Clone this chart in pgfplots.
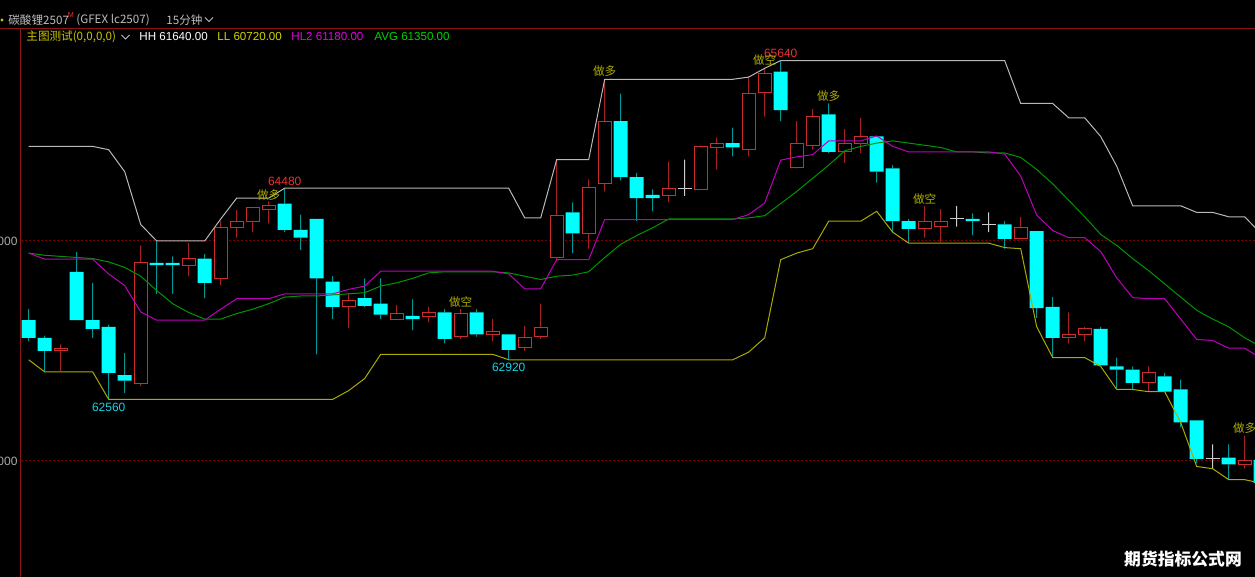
\documentclass[border=0pt]{standalone}
\usepackage{pgfplots}
\usepackage{pgfplotstable}
\usepackage{fontspec}
\pgfplotsset{compat=1.18}
\setmainfont{Liberation Sans}
\newfontfamily\cjk{Noto Sans CJK SC}

\definecolor{framered}{RGB}{140,20,20}
\definecolor{gridred}{RGB}{120,0,0}
\definecolor{upred}{RGB}{205,45,45}
\definecolor{upwick}{RGB}{165,35,35}
\definecolor{dncyan}{RGB}{0,255,255}
\definecolor{dnwick}{RGB}{0,150,150}
\definecolor{dojigray}{RGB}{205,205,205}
\definecolor{hhgray}{RGB}{185,185,185}
\definecolor{llyellow}{RGB}{170,170,0}
\definecolor{hlmag}{RGB}{190,0,190}
\definecolor{avggreen}{RGB}{0,150,0}
\definecolor{sigyellow}{RGB}{175,175,0}
\definecolor{hdrgray}{RGB}{190,190,190}
\definecolor{hdryellow}{RGB}{205,195,0}
\definecolor{txtyellow}{RGB}{210,210,0}
\definecolor{txtmag}{RGB}{230,0,230}
\definecolor{txtgreen}{RGB}{0,210,0}
\definecolor{lblred}{RGB}{235,50,50}
\definecolor{lblcyan}{RGB}{20,210,230}
\definecolor{tickgray}{RGB}{170,170,170}

\newcommand{\hdrfont}{\fontsize{5.8}{7}\selectfont}

% falling bars (open > close)
\pgfplotstableread{
x o h l c
0 63280 63380 63090 63120
1 63120 63140 62820 63000
3 63720 63900 63280 63280
4 63280 63620 63120 63200
5 63220 63240 62560 62800
6 62780 62980 62620 62730
8 63800 64000 63520 63780
9 63800 63860 63520 63780
11 63840 63880 63480 63620
16 64340 64480 64080 64100
17 64100 64240 63920 64030
18 64200 64200 62970 63660
19 63630 63680 63290 63400
21 63480 63660 63400 63410
22 63430 63660 63290 63330
24 63320 63470 63190 63290
26 63350 63380 63070 63110
28 63350 63380 63130 63150
30 63150 63150 62920 63010
34 64260 64350 63890 64070
37 65090 65340 64550 64580
38 64580 64620 64180 64390
39 64420 64470 64270 64390
44 64890 65030 64770 64850
47 65540 65640 65090 65190
50 65150 65250 64800 64810
53 64950 64950 64530 64630
54 64660 64690 64080 64180
55 64180 64200 63980 64110
59 64200 64250 64050 64180
61 64150 64180 63930 64020
63 64090 64090 63300 63390
64 63400 63490 62940 63120
67 63200 63220 62870 62870
68 62860 62940 62660 62830
69 62830 62860 62650 62710
71 62770 62800 62630 62630
72 62650 62740 62310 62350
73 62370 62370 61980 62020
75 62030 62150 61830 61970
77 62010 62030 61780 61800
}\dndata

% rising bars (close > open)
\pgfplotstableread{
x o h l c
2 63000 63060 62820 63020
7 62700 63960 62680 63800
10 63780 63980 63680 63840
12 63660 64180 63600 64120
13 64120 64280 64030 64180
14 64180 64300 64080 64300
15 64290 64360 64160 64320
20 63400 63520 63210 63460
23 63290 63420 63290 63340
25 63310 63400 63260 63350
27 63130 63380 63110 63340
29 63150 63290 63090 63180
31 63030 63230 63000 63120
32 63130 63430 63110 63210
33 63850 64740 63820 64230
35 64070 64560 63930 64490
36 64520 65470 64450 65090
40 64410 64720 64350 64480
42 64470 64870 64470 64860
43 64850 64940 64650 64890
45 64830 65490 64770 65340
46 65350 65570 65130 65520
48 64670 65090 64660 64890
49 64870 65200 64830 65130
51 64810 65020 64710 64890
52 64890 65120 64800 64950
56 64110 64320 64030 64180
57 64130 64290 63990 64180
62 64020 64220 64020 64120
65 63120 63350 63070 63150
66 63150 63220 63090 63200
70 62710 62860 62630 62800
76 61970 62230 61930 62000
}\updata

% unchanged bars (open = close)
\pgfplotstableread{
x o h l
41 64480 64740 64410
58 64200 64320 64130
60 64150 64260 64080
74 62020 62150 61930
}\dojidata

% indicator lines: HH, LL, HL2, AVG
\pgfplotstableread{
x hh ll hl avg
0 64860 62920 63890 63890
1 64860 62810 63835 63870
2 64860 62810 63835 63860
3 64860 62810 63835 63850
4 64860 62810 63835 63840
5 64830 62560 63700 63810
6 64630 62560 63595 63760
7 64150 62560 63355 63680
8 64000 62560 63280 63550
9 64000 62560 63280 63430
10 64000 62560 63280 63350
11 64000 62560 63280 63290
12 64200 62560 63380 63290
13 64390 62560 63475 63340
14 64390 62560 63475 63380
15 64390 62560 63475 63430
16 64480 62560 63520 63490
17 64480 62560 63520 63500
18 64480 62560 63520 63500
19 64480 62560 63520 63510
20 64480 62640 63560 63520
21 64480 62750 63590 63530
22 64480 62970 63725 63590
23 64480 62970 63725 63620
24 64480 62970 63725 63660
25 64480 62970 63725 63710
26 64480 62970 63725 63720
27 64480 62970 63725 63720
28 64480 62970 63725 63720
29 64480 62970 63725 63720
30 64480 62920 63700 63710
31 64210 62920 63565 63680
32 64210 62920 63565 63650
33 64740 62920 63830 63680
34 64740 62920 63830 63690
35 64740 62920 63830 63720
36 65470 62920 64195 63850
37 65470 62920 64195 63970
38 65470 62920 64195 64050
39 65470 62920 64195 64120
40 65470 62920 64195 64200
41 65470 62920 64195 64200
42 65470 62920 64195 64200
43 65470 62920 64195 64200
44 65470 62920 64195 64200
45 65490 62990 64240 64210
46 65570 63120 64345 64230
47 65640 63830 64735 64340
48 65640 63890 64765 64450
49 65640 63930 64785 64570
50 65640 64180 64910 64690
51 65640 64180 64910 64820
52 65640 64180 64910 64860
53 65640 64270 64955 64890
54 65640 64080 64860 64910
55 65640 63980 64810 64890
56 65640 63980 64810 64870
57 65640 63980 64810 64850
58 65640 63980 64810 64810
59 65640 63980 64810 64810
60 65640 63980 64810 64800
61 65640 63940 64790 64800
62 65250 63930 64590 64760
63 65250 63220 64235 64650
64 65250 62940 64095 64520
65 65120 62940 64030 64370
66 65120 62940 64030 64220
67 64950 62860 63905 64060
68 64680 62650 63665 63960
69 64320 62650 63485 63840
70 64320 62630 63475 63730
71 64320 62630 63475 63610
72 64320 62350 63290 63490
73 64260 61950 63105 63370
74 64260 61930 63095 63290
75 64220 61830 63025 63220
76 64220 61830 63025 63120
77 64070 61800 62935 63040
}\linedata

\pgfplotsset{
  frame/.style={at={(10.35pt,0pt)}, anchor=south west,
    scale only axis, width=617.15pt, height=274pt,
    xmin=-0.5, xmax=76.64375, ymin=60945.45, ymax=65927.27, clip=true},
  layer/.style={frame, hide axis},
  gap/.style={draw=none, fill=none, bar width=0.5pt},
  stem/.style={draw=none, fill=#1, bar width=0.5pt},
}

\begin{document}
\begin{tikzpicture}
\fill[black] (0,0) rectangle (627.5pt,288.5pt);

% price scale and grid
\begin{axis}[frame,
  axis line style={draw=none},
  xtick=\empty,
  ytick={62000,64000},
  yticklabels={62000,64000},
  scaled y ticks=false,
  major tick length=0pt,
  ymajorgrids,
  grid style={draw=gridred, dash pattern=on 1pt off 1pt, line width=0.5pt},
  yticklabel style={text=tickgray, font=\fontsize{6}{7}\selectfont, inner sep=0pt, xshift=-1.4pt},
]
\addplot[draw=none] coordinates {(0,63000)};
\end{axis}

% falling bars: low..close wick, close..open body, open..high wick
\begin{axis}[layer, ybar stacked]
\addplot[gap] table[x=x, y=l] {\dndata};
\addplot[stem=dnwick] table[x=x, y expr=\thisrow{c}-\thisrow{l}] {\dndata};
\addplot[draw=none, fill=dncyan, bar width=7pt] table[x=x, y expr=\thisrow{o}-\thisrow{c}] {\dndata};
\addplot[stem=dnwick] table[x=x, y expr=\thisrow{h}-\thisrow{o}] {\dndata};
\end{axis}

% rising bars: low..open wick, hollow open..close body, close..high wick
\begin{axis}[layer, ybar stacked]
\addplot[gap] table[x=x, y=l] {\updata};
\addplot[stem=upwick] table[x=x, y expr=\thisrow{o}-\thisrow{l}] {\updata};
\addplot[draw=upred, fill=black, line width=0.5pt, bar width=6.5pt] table[x=x, y expr=\thisrow{c}-\thisrow{o}] {\updata};
\addplot[stem=upwick] table[x=x, y expr=\thisrow{h}-\thisrow{c}] {\updata};
\end{axis}

% unchanged bars: wick
\begin{axis}[layer, ybar stacked]
\addplot[gap] table[x=x, y=l] {\dojidata};
\addplot[stem=dojigray] table[x=x, y expr=\thisrow{o}-\thisrow{l}] {\dojidata};
\addplot[stem=dojigray] table[x=x, y expr=\thisrow{h}-\thisrow{o}] {\dojidata};
\end{axis}

% indicator lines, unchanged-bar ticks and annotations
\begin{axis}[layer]
\addplot[only marks, mark=-, mark size=3.5pt, mark options={draw=dojigray, line width=0.5pt, solid}] table[x=x, y=o] {\dojidata};
\addplot[hhgray, line width=0.5pt, mark=none] table[x=x, y=hh] {\linedata};
\addplot[avggreen, line width=0.5pt, mark=none] table[x=x, y=avg] {\linedata};
\addplot[hlmag, line width=0.5pt, mark=none] table[x=x, y=hl] {\linedata};
\addplot[llyellow, line width=0.5pt, mark=none] table[x=x, y=ll] {\linedata};

\node[text=lblred, anchor=south, inner sep=0pt, yshift=1.2pt, font=\fontsize{6}{7}\selectfont] at (axis cs:16,64480) {64480};
\node[text=lblred, anchor=south, inner sep=0pt, yshift=1.2pt, font=\fontsize{6}{7}\selectfont] at (axis cs:47,65640) {65640};
\node[text=lblcyan, anchor=north, inner sep=0pt, yshift=-1.6pt, font=\fontsize{6}{7}\selectfont] at (axis cs:5,62560) {62560};
\node[text=lblcyan, anchor=north, inner sep=0pt, yshift=-1.6pt, font=\fontsize{6}{7}\selectfont] at (axis cs:30,62920) {62920};

\tikzset{sig/.style={text=sigyellow, inner sep=0pt, font=\cjk\fontsize{5.8}{7}\selectfont}}
\node[sig] at (axis cs:15,64418) {做多};
\node[sig] at (axis cs:36,65545) {做多};
\node[sig] at (axis cs:50,65320) {做多};
\node[sig] at (axis cs:76,62295) {做多};
\node[sig] at (axis cs:27,63441) {做空};
\node[sig] at (axis cs:46,65645) {做空};
\node[sig] at (axis cs:56,64377) {做空};
\end{axis}

\begin{scope}[x=0.5pt, y=-0.5pt, shift={(0pt,288.5pt)}]
  % frame
  \draw[framered, line width=0.5pt] (0,29) -- (1255,29);
  \draw[framered, line width=0.5pt] (20.7,29) -- (20.7,577);
  % title line
  \fill[hdryellow] (2,20) circle (1.6);
  \node[anchor=west, inner sep=0pt, text=hdrgray, font=\cjk\hdrfont] at (8,20) {碳酸锂2507};
  \node[anchor=west, inner sep=0pt, text=lblred, font=\fontsize{3.6}{4}\selectfont] at (67.5,15.5) {M};
  \node[anchor=west, inner sep=0pt, text=hdrgray, font=\cjk\hdrfont] at (76,20) {(GFEX lc2507)};
  \node[anchor=west, inner sep=0pt, text=hdrgray, font=\cjk\hdrfont] at (166,20) {15分钟};
  \draw[hdrgray, line width=0.5pt] (205,17.5) -- (209,21.5) -- (213,17.5);
  % indicator header
  \node[anchor=west, inner sep=0pt, text=hdryellow, font=\cjk\hdrfont] at (26,37) {主图测试(0,0,0,0)};
  \draw[hdrgray, line width=0.5pt] (121.5,35) -- (125.5,39) -- (129.5,35);
  \node[anchor=west, inner sep=0pt, text=white, font=\hdrfont] at (139,37) {HH 61640.00};
  \node[anchor=west, inner sep=0pt, text=txtyellow, font=\hdrfont] at (217,37) {LL 60720.00};
  \node[anchor=west, inner sep=0pt, text=txtmag, font=\hdrfont] at (291,37) {HL2 61180.00};
  \node[anchor=west, inner sep=0pt, text=txtgreen, font=\hdrfont] at (374,37) {AVG 61350.00};
  % site mark
  \node[anchor=center, inner sep=0pt, text=white, font=\cjk\bfseries\fontsize{8.4}{9}\selectfont] at (1183,559.5) {期货指标公式网};
\end{scope}

\pgfresetboundingbox
\useasboundingbox (0,0) rectangle (627.5pt,288.5pt);
\end{tikzpicture}
\end{document}
